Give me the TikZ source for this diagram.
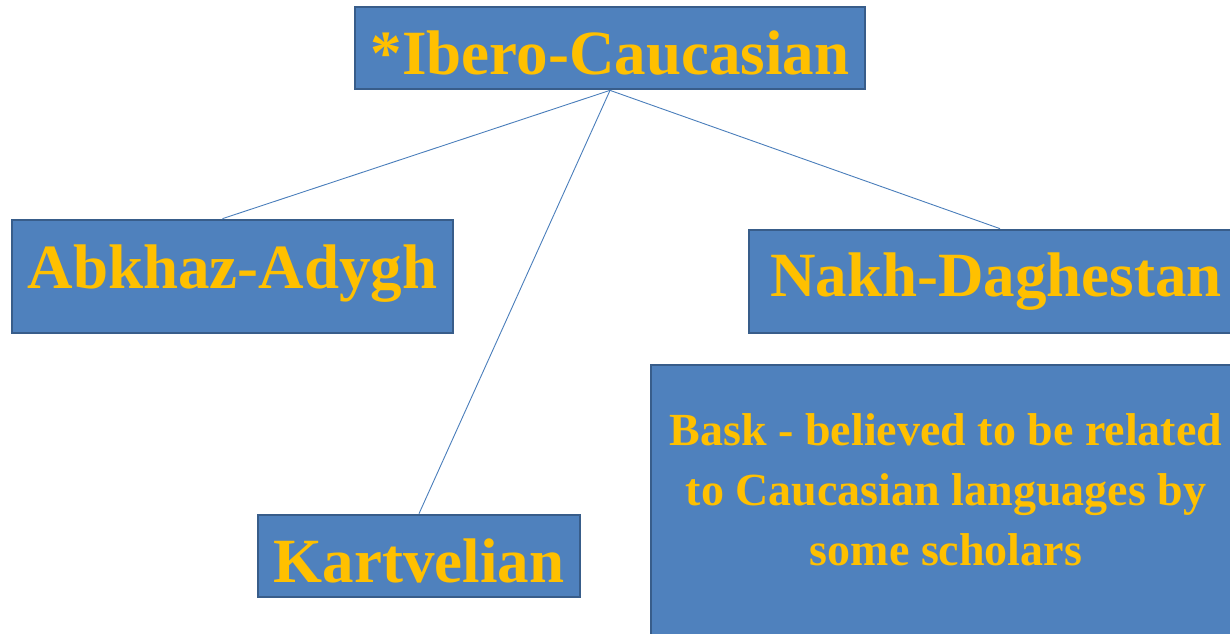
\documentclass[tikz,border=0pt]{standalone}
\usepackage{fontspec}
\setmainfont{Liberation Serif}
\usetikzlibrary{positioning}
\definecolor{boxblue}{HTML}{4F81BD}
\definecolor{boxedge}{HTML}{385D8A}
\definecolor{linkblue}{HTML}{4A7EBB}
\definecolor{gold}{HTML}{FFC000}

\begin{document}
\begin{tikzpicture}[x=1pt, y=-1pt]
		\tikzstyle{Box} = [rectangle, inner sep=0pt, draw=boxedge, line width=2.7pt, fill=boxblue, text=gold, font=\fontsize{63}{63}\selectfont\bfseries]
		\tikzstyle{link} = [linkblue, line width=0.9pt]
		
		\useasboundingbox (0, 0) rectangle (1230, 633);
		\clip (0, 0) rectangle (1230, 633);
		
		\node (root) [Box, minimum width=510pt, minimum height=82pt, text height=52pt, text depth=0pt] at (610, 48) {*Ibero-Caucasian};
		\node (abkhaz) [Box, minimum width=441pt, minimum height=113pt, text depth=20pt] at (232.5, 276.5) {Abkhaz-Adygh};
		\node (nakh) [Box, minimum width=494pt, minimum height=103pt] at (996, 281.5) {Nakh-Daghestan};
		\node (kartv) [Box, minimum width=322pt, minimum height=82pt, text height=52pt, text depth=0pt] at (419, 556) {Kartvelian};
		\node (bask) [Box, minimum width=590pt, minimum height=310pt, align=center, font=\fontsize{46}{60}\selectfont\bfseries] at (946, 520) {Bask - believed to be related\\ to Caucasian languages by\\ some scholars\\ \mbox{}};
		
		\draw [link] (root.south) -- ([xshift=-10pt]abkhaz.north);
		\draw [link] (root.south) -- (kartv.north);
		\draw [link] (root.south) -- ([xshift=4pt]nakh.north);
\end{tikzpicture}
\end{document}
